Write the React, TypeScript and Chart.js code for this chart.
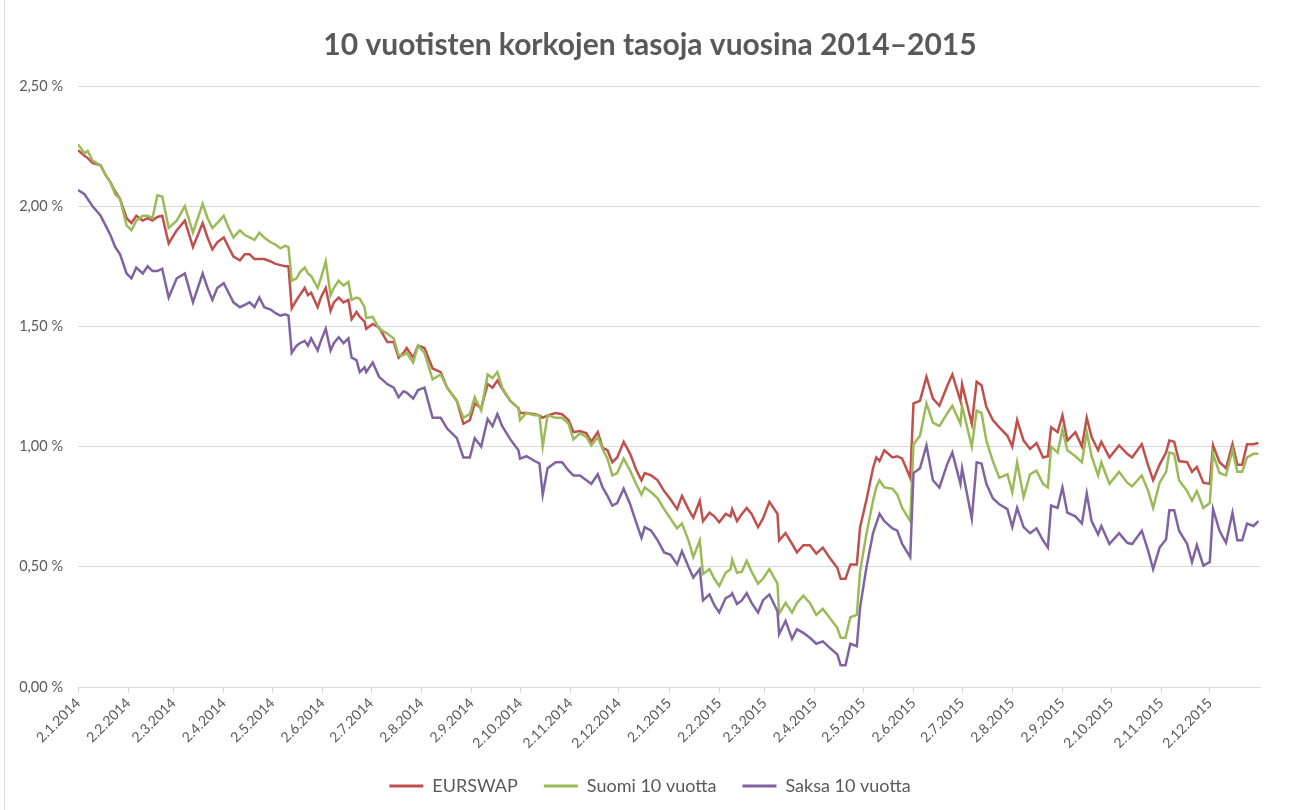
import React, { useEffect, useRef } from "react";
import { Chart, registerables } from "chart.js";

Chart.register(...registerables);

const TITLE = "10 vuotisten korkojen tasoja vuosina 2014–2015";
const SERIES_NAMES = ["EURSWAP", "Suomi 10 vuotta", "Saksa 10 vuotta"];
const SERIES_COLORS = ["#C0504D", "#9BBB59", "#8064A2"];
const START_DATE = "2.1.2014";
const TICK_LABELS = [
  "2.1.2014", "2.2.2014", "2.3.2014", "2.4.2014", "2.5.2014", "2.6.2014",
  "2.7.2014", "2.8.2014", "2.9.2014", "2.10.2014", "2.11.2014", "2.12.2014",
  "2.1.2015", "2.2.2015", "2.3.2015", "2.4.2015", "2.5.2015", "2.6.2015",
  "2.7.2015", "2.8.2015", "2.9.2015", "2.10.2015", "2.11.2015", "2.12.2015",
];
const Y_MIN = 0;
const Y_MAX = 2.5;
const Y_STEP = 0.5;

// days since 2.1.2014
const DAY = [
  0, 4, 6, 9, 14, 17, 20, 23, 26, 30, 33, 36, 40, 43, 46, 49, 52, 56, 61, 66,
  71, 77, 80, 83, 86, 90, 93, 96, 100, 103, 106, 109, 112, 115, 119, 122, 125, 128, 130, 132,
  135, 137, 140, 142, 144, 148, 150, 153, 156, 158, 161, 164, 167, 169, 172, 174, 177, 178, 182, 186,
  191, 195, 198, 201, 203, 207, 210, 214, 219, 224, 228, 234, 238, 242, 245, 249, 253, 256, 259, 262,
  267, 272, 273, 277, 282, 285, 287, 290, 295, 299, 303, 306, 310, 314, 317, 321, 324, 327, 330, 333,
  337, 341, 345, 348, 350, 354, 358, 362, 366, 370, 373, 377, 380, 384, 386, 390, 393, 396, 400, 403,
  404, 407, 410, 413, 416, 420, 423, 427, 432, 433, 437, 441, 444, 448, 452, 456, 460, 464, 469, 471,
  474, 477, 481, 483, 487, 491, 493, 495, 498, 503, 506, 509, 514, 516, 520, 524, 528, 532, 537, 540,
  545, 546, 552, 555, 558, 561, 565, 569, 574, 577, 580, 584, 588, 592, 596, 599, 601, 605, 608, 611,
  616, 620, 623, 626, 630, 632, 637, 643, 648, 651, 657, 661, 664, 668, 672, 674, 677, 680, 685, 688,
  691, 695, 699, 701, 705, 709, 713, 716, 719, 722, 726, 729,
];

const EURSWAP = [
  2.233, 2.21, 2.2, 2.18, 2.17, 2.13, 2.1, 2.06, 2.03, 1.95, 1.93, 1.96, 1.94, 1.95, 1.94, 1.955, 1.96, 1.845, 1.9, 1.94,
  1.83, 1.93, 1.87, 1.82, 1.85, 1.87, 1.83, 1.79, 1.775, 1.8, 1.8, 1.78, 1.78, 1.78, 1.77, 1.76, 1.755, 1.75, 1.75, 1.575,
  1.61, 1.63, 1.66, 1.63, 1.64, 1.58, 1.62, 1.66, 1.565, 1.6, 1.62, 1.6, 1.61, 1.53, 1.56, 1.54, 1.52, 1.49, 1.51, 1.495,
  1.435, 1.435, 1.37, 1.39, 1.41, 1.37, 1.42, 1.41, 1.325, 1.31, 1.245, 1.19, 1.095, 1.11, 1.18, 1.16, 1.26, 1.245, 1.275, 1.24,
  1.19, 1.16, 1.14, 1.14, 1.135, 1.13, 1.12, 1.13, 1.14, 1.135, 1.11, 1.06, 1.065, 1.055, 1.02, 1.06, 0.995, 0.985, 0.935, 0.955,
  1.02, 0.97, 0.9, 0.86, 0.89, 0.88, 0.86, 0.815, 0.78, 0.74, 0.795, 0.74, 0.705, 0.775, 0.69, 0.725, 0.71, 0.685, 0.72, 0.71,
  0.74, 0.69, 0.72, 0.745, 0.72, 0.665, 0.7, 0.77, 0.72, 0.61, 0.64, 0.595, 0.56, 0.59, 0.59, 0.555, 0.58, 0.54, 0.495, 0.45,
  0.45, 0.51, 0.51, 0.665, 0.78, 0.91, 0.955, 0.94, 0.985, 0.955, 0.96, 0.95, 0.87, 1.18, 1.19, 1.29, 1.2, 1.17, 1.255, 1.3,
  1.19, 1.26, 1.095, 1.27, 1.255, 1.165, 1.11, 1.08, 1.045, 1.0, 1.11, 1.025, 0.99, 1.015, 0.955, 0.96, 1.08, 1.06, 1.13, 1.025,
  1.06, 1.0, 1.12, 1.04, 0.985, 1.02, 0.955, 1.005, 0.97, 0.955, 1.01, 0.92, 0.86, 0.925, 0.975, 1.025, 1.02, 0.94, 0.935, 0.895,
  0.915, 0.85, 0.845, 1.005, 0.935, 0.91, 1.01, 0.925, 0.925, 1.01, 1.01, 1.015,
];

const SUOMI = [
  2.258, 2.22, 2.23, 2.19, 2.17, 2.13, 2.1, 2.05, 2.03, 1.92, 1.9, 1.94, 1.96, 1.96, 1.95, 2.045, 2.04, 1.91, 1.94, 2.0,
  1.89, 2.01, 1.95, 1.91, 1.93, 1.96, 1.91, 1.87, 1.9, 1.88, 1.87, 1.86, 1.89, 1.87, 1.85, 1.84, 1.825, 1.835, 1.83, 1.69,
  1.7, 1.725, 1.745, 1.72, 1.71, 1.66, 1.7, 1.77, 1.63, 1.66, 1.69, 1.67, 1.685, 1.61, 1.62, 1.615, 1.58, 1.535, 1.54, 1.49,
  1.47, 1.45, 1.38, 1.38, 1.39, 1.35, 1.42, 1.39, 1.28, 1.3, 1.245, 1.19, 1.12, 1.135, 1.205, 1.15, 1.3, 1.285, 1.31, 1.245,
  1.19, 1.16, 1.11, 1.14, 1.13, 1.13, 1.0, 1.13, 1.12, 1.12, 1.095, 1.03, 1.055, 1.04, 1.005, 1.04, 0.99, 0.95, 0.88, 0.89,
  0.95, 0.9, 0.84, 0.8, 0.83, 0.81, 0.785, 0.74, 0.7, 0.66, 0.68, 0.61, 0.54, 0.61, 0.47, 0.49, 0.45, 0.42, 0.475, 0.49,
  0.53, 0.475, 0.48, 0.525, 0.48, 0.43, 0.45, 0.49, 0.43, 0.305, 0.35, 0.31, 0.35, 0.38, 0.35, 0.3, 0.325, 0.29, 0.245, 0.205,
  0.205, 0.29, 0.3, 0.48, 0.64, 0.775, 0.83, 0.86, 0.83, 0.825, 0.8, 0.745, 0.69, 1.01, 1.045, 1.18, 1.1, 1.085, 1.14, 1.17,
  1.095, 1.17, 1.0, 1.15, 1.14, 1.025, 0.94, 0.87, 0.885, 0.81, 0.935, 0.79, 0.885, 0.9, 0.845, 0.83, 1.0, 0.975, 1.07, 0.985,
  0.96, 0.935, 1.06, 0.96, 0.88, 0.935, 0.845, 0.895, 0.85, 0.835, 0.88, 0.815, 0.745, 0.85, 0.895, 0.975, 0.97, 0.86, 0.815, 0.775,
  0.815, 0.745, 0.765, 0.97, 0.89, 0.88, 0.985, 0.895, 0.895, 0.955, 0.97, 0.97,
];

const SAKSA = [
  2.067, 2.05, 2.03, 2.0, 1.96, 1.92, 1.88, 1.83, 1.8, 1.72, 1.7, 1.745, 1.72, 1.75, 1.73, 1.73, 1.74, 1.62, 1.7, 1.72,
  1.6, 1.72, 1.66, 1.61, 1.66, 1.68, 1.64, 1.6, 1.58, 1.59, 1.6, 1.58, 1.62, 1.58, 1.57, 1.555, 1.545, 1.55, 1.545, 1.39,
  1.42, 1.43, 1.44, 1.42, 1.45, 1.4, 1.44, 1.49, 1.4, 1.43, 1.455, 1.43, 1.45, 1.37, 1.36, 1.31, 1.33, 1.31, 1.35, 1.29,
  1.26, 1.245, 1.205, 1.23, 1.225, 1.2, 1.235, 1.245, 1.12, 1.12, 1.075, 1.035, 0.955, 0.955, 1.035, 1.0, 1.115, 1.085, 1.135, 1.085,
  1.03, 0.985, 0.95, 0.96, 0.94, 0.93, 0.8, 0.91, 0.935, 0.935, 0.9, 0.88, 0.88, 0.86, 0.845, 0.885, 0.83, 0.795, 0.755, 0.765,
  0.825, 0.76, 0.68, 0.62, 0.665, 0.65, 0.61, 0.56, 0.55, 0.51, 0.565, 0.5, 0.455, 0.49, 0.36, 0.385, 0.34, 0.31, 0.37, 0.38,
  0.39, 0.345, 0.36, 0.39, 0.35, 0.31, 0.36, 0.385, 0.315, 0.22, 0.275, 0.2, 0.24, 0.225, 0.205, 0.18, 0.19, 0.165, 0.135, 0.09,
  0.09, 0.18, 0.17, 0.33, 0.5, 0.64, 0.68, 0.72, 0.69, 0.66, 0.65, 0.595, 0.54, 0.89, 0.91, 1.005, 0.86, 0.83, 0.93, 0.975,
  0.845, 0.91, 0.7, 0.935, 0.93, 0.845, 0.785, 0.76, 0.74, 0.665, 0.745, 0.665, 0.64, 0.66, 0.61, 0.58, 0.755, 0.745, 0.83, 0.725,
  0.71, 0.68, 0.805, 0.69, 0.635, 0.67, 0.595, 0.64, 0.6, 0.595, 0.65, 0.565, 0.49, 0.58, 0.615, 0.735, 0.735, 0.65, 0.595, 0.52,
  0.59, 0.505, 0.52, 0.74, 0.65, 0.6, 0.725, 0.61, 0.61, 0.68, 0.67, 0.69,
];

const SERIES_VALUES = [EURSWAP, SUOMI, SAKSA];

const FONT = "Lato, 'Open Sans', 'DejaVu Sans', sans-serif";
const TEXT = "#595959";
const GRID = "#d9d9d9";
const CENTER_INSET = 40; // title & legend are centred on the chart frame, not the canvas

function toDay(s: string): number {
  const [d, m, y] = s.split(".").map(Number);
  const [d0, m0, y0] = START_DATE.split(".").map(Number);
  return Math.round((Date.UTC(y, m - 1, d) - Date.UTC(y0, m0 - 1, d0)) / 86400000);
}

const shiftBoxes = {
  id: "shiftBoxes",
  afterLayout(chart: any) {
    for (const box of [chart.titleBlock, chart.legend]) {
      if (box) box.left = CENTER_INSET;
    }
  },
};

export default function App() {
  const ref = useRef<HTMLCanvasElement>(null);

  useEffect(() => {
    if (!ref.current) return;
    const tickDays = TICK_LABELS.map(toDay);
    const labelByDay = new Map<number, string>();
    tickDays.forEach((d, i) => labelByDay.set(d, TICK_LABELS[i]));

    const datasets = SERIES_NAMES.map((name, i) => ({
      label: name,
      data: DAY.map((d, j) => ({ x: d, y: SERIES_VALUES[i][j] })),
      borderColor: SERIES_COLORS[i],
      backgroundColor: SERIES_COLORS[i],
      borderWidth: 2.5,
      pointRadius: 0,
      tension: 0,
      order: SERIES_NAMES.length - 1 - i,
    }));

    const chart = new Chart(ref.current, {
      type: "line",
      data: { datasets },
      plugins: [shiftBoxes],
      options: {
        responsive: false,
        animation: false,
        layout: { padding: { left: 0, right: 30, top: 0, bottom: 5 } },
        plugins: {
          title: {
            display: true,
            text: TITLE,
            color: TEXT,
            font: { family: FONT, size: 30, weight: "bold" },
            padding: { top: 27, bottom: 23 },
          },
          legend: {
            position: "bottom",
            labels: {
              color: TEXT,
              font: { family: FONT, size: 18 },
              boxWidth: 34,
              boxHeight: 3,
              padding: 26,
              sort: (a: any, b: any) => a.datasetIndex - b.datasetIndex,
              generateLabels: (c: any) =>
                (Chart.defaults.plugins.legend.labels as any)
                  .generateLabels(c)
                  .map((l: any) => ({ ...l, fillStyle: l.strokeStyle, lineWidth: 0 })),
            },
          },
          tooltip: { enabled: false },
        },
        scales: {
          x: {
            type: "linear",
            min: 0,
            max: 730,
            afterFit: (scale: any) => {
              scale.height = 64;
            },
            afterBuildTicks: (scale: any) => {
              scale.ticks = tickDays.map((v) => ({ value: v }));
            },
            ticks: {
              autoSkip: false,
              maxRotation: 45,
              minRotation: 45,
              color: TEXT,
              font: { family: FONT, size: 14 },
              padding: 2,
              callback: (v: any) => labelByDay.get(Number(v)) ?? "",
            },
            grid: {
              display: true,
              drawOnChartArea: false,
              drawTicks: true,
              tickLength: 6,
              color: GRID,
            },
            border: { display: true, color: GRID },
          },
          y: {
            min: Y_MIN,
            max: Y_MAX,
            afterFit: (scale: any) => {
              scale.width = 78;
            },
            ticks: {
              stepSize: Y_STEP,
              color: TEXT,
              font: { family: FONT, size: 14.5 },
              padding: 15,
              callback: (v: any) => Number(v).toFixed(2).replace(".", ",") + " %",
            },
            grid: { color: GRID, drawTicks: false, lineWidth: 1 },
            border: { display: false },
          },
        },
      },
    });
    return () => chart.destroy();
  }, []);

  return (
    <div
      style={{
        position: "fixed",
        left: 0,
        top: 0,
        width: 1290,
        height: 810,
        background: "#ffffff",
      }}
    >
      <div style={{ position: "absolute", left: 4, top: 0, width: 1, height: 810, background: GRID }} />
      <canvas ref={ref} width={1290} height={810} style={{ display: "block", width: 1290, height: 810 }} />
    </div>
  );
}
